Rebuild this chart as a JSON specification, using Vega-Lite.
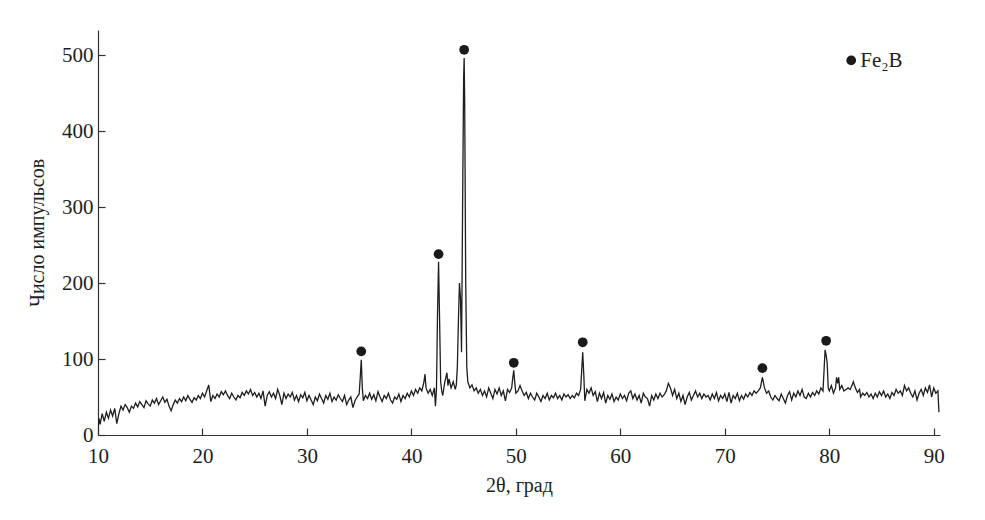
{
  "$schema": "https://vega.github.io/schema/vega-lite/v6.json",
  "width": 842,
  "height": 405,
  "autosize": "none",
  "padding": {"left": 98, "top": 30, "right": 45, "bottom": 85},
  "background": "white",
  "config": {
    "view": {"stroke": null},
    "font": "Liberation Serif",
    "axis": {"grid": false, "domainColor": "#333", "tickColor": "#333", "labelColor": "#1e1e1e", "titleColor": "#1e1e1e", "labelFont": "Liberation Serif", "titleFont": "Liberation Serif", "labelFontSize": 21, "titleFontSize": 20, "titleFontWeight": "normal", "domainWidth": 1.2, "tickWidth": 1.2}
  },
  "datasets": {
    "xrd": [
      {"t":10.0,"c":8},{"t":10.1,"c":22},{"t":10.2,"c":14},{"t":10.4,"c":28},{"t":10.6,"c":18},{"t":10.8,"c":30},{"t":11.0,"c":22},{"t":11.2,"c":33},{"t":11.4,"c":25},{"t":11.6,"c":35},{"t":11.8,"c":15},{"t":12.0,"c":28},{"t":12.2,"c":38},
      {"t":12.4,"c":33},{"t":12.6,"c":40},{"t":12.8,"c":36},{"t":13.0,"c":30},{"t":13.2,"c":38},{"t":13.4,"c":35},{"t":13.6,"c":42},{"t":13.8,"c":37},{"t":14.0,"c":44},{"t":14.2,"c":40},{"t":14.4,"c":36},{"t":14.6,"c":45},{"t":14.8,"c":41},{"t":15.0,"c":38},
      {"t":15.2,"c":46},{"t":15.4,"c":42},{"t":15.6,"c":48},{"t":15.8,"c":40},{"t":16.0,"c":45},{"t":16.2,"c":50},{"t":16.4,"c":43},{"t":16.6,"c":47},{"t":16.8,"c":38},{"t":17.0,"c":32},{"t":17.2,"c":40},{"t":17.4,"c":46},{"t":17.6,"c":42},{"t":17.8,"c":48},{"t":18.0,"c":44},
      {"t":18.2,"c":50},{"t":18.4,"c":45},{"t":18.6,"c":52},{"t":18.8,"c":47},{"t":19.0,"c":43},{"t":19.2,"c":49},{"t":19.4,"c":46},{"t":19.6,"c":52},{"t":19.8,"c":48},{"t":20.0,"c":55},{"t":20.2,"c":50},{"t":20.4,"c":58},{"t":20.6,"c":66},{"t":20.8,"c":44},{"t":21.0,"c":52},
      {"t":21.2,"c":48},{"t":21.4,"c":54},{"t":21.6,"c":50},{"t":21.8,"c":57},{"t":22.0,"c":53},{"t":22.2,"c":58},{"t":22.4,"c":52},{"t":22.6,"c":48},{"t":22.8,"c":55},{"t":23.0,"c":50},{"t":23.2,"c":46},{"t":23.4,"c":52},{"t":23.6,"c":49},{"t":23.8,"c":56},{"t":24.0,"c":52},
      {"t":24.2,"c":58},{"t":24.4,"c":54},{"t":24.6,"c":60},{"t":24.8,"c":52},{"t":25.0,"c":56},{"t":25.2,"c":50},{"t":25.4,"c":55},{"t":25.6,"c":48},{"t":25.8,"c":58},{"t":26.0,"c":38},{"t":26.2,"c":52},{"t":26.4,"c":57},{"t":26.6,"c":50},{"t":26.8,"c":55},{"t":27.0,"c":48},
      {"t":27.2,"c":60},{"t":27.4,"c":52},{"t":27.6,"c":40},{"t":27.8,"c":55},{"t":28.0,"c":48},{"t":28.2,"c":54},{"t":28.4,"c":50},{"t":28.6,"c":56},{"t":28.8,"c":46},{"t":29.0,"c":52},{"t":29.2,"c":44},{"t":29.4,"c":53},{"t":29.6,"c":49},{"t":29.8,"c":56},{"t":30.0,"c":45},
      {"t":30.2,"c":52},{"t":30.4,"c":46},{"t":30.6,"c":40},{"t":30.8,"c":50},{"t":31.0,"c":45},{"t":31.2,"c":54},{"t":31.4,"c":48},{"t":31.6,"c":42},{"t":31.8,"c":52},{"t":32.0,"c":47},{"t":32.2,"c":55},{"t":32.4,"c":44},{"t":32.6,"c":50},{"t":32.8,"c":46},{"t":33.0,"c":53},
      {"t":33.2,"c":48},{"t":33.4,"c":44},{"t":33.6,"c":52},{"t":33.8,"c":40},{"t":34.0,"c":46},{"t":34.2,"c":50},{"t":34.4,"c":36},{"t":34.6,"c":45},{"t":34.8,"c":50},{"t":35.0,"c":54},
      {"t":35.1,"c":75},{"t":35.2,"c":99},{"t":35.3,"c":62},{"t":35.4,"c":45},
      {"t":35.6,"c":52},{"t":35.8,"c":48},{"t":36.0,"c":55},{"t":36.2,"c":47},{"t":36.4,"c":53},{"t":36.6,"c":45},{"t":36.8,"c":57},{"t":37.0,"c":50},{"t":37.2,"c":44},{"t":37.4,"c":52},{"t":37.6,"c":48},{"t":37.8,"c":55},{"t":38.0,"c":46},
      {"t":38.2,"c":42},{"t":38.4,"c":50},{"t":38.6,"c":47},{"t":38.8,"c":54},{"t":39.0,"c":44},{"t":39.2,"c":52},{"t":39.4,"c":48},{"t":39.6,"c":55},{"t":39.8,"c":50},{"t":40.0,"c":58},{"t":40.2,"c":52},{"t":40.4,"c":60},{"t":40.6,"c":55},{"t":40.8,"c":62},{"t":41.0,"c":58},
      {"t":41.2,"c":70},{"t":41.3,"c":80},{"t":41.4,"c":62},{"t":41.6,"c":55},{"t":41.8,"c":60},{"t":42.0,"c":52},{"t":42.2,"c":62},{"t":42.3,"c":38},{"t":42.4,"c":60},{"t":42.5,"c":160},{"t":42.6,"c":228},{"t":42.7,"c":150},{"t":42.8,"c":70},{"t":42.9,"c":58},{"t":43.0,"c":52},{"t":43.2,"c":70},{"t":43.4,"c":82},{"t":43.5,"c":65},{"t":43.6,"c":74},{"t":43.8,"c":62},{"t":44.0,"c":70},{"t":44.2,"c":60},{"t":44.3,"c":66},{"t":44.4,"c":90},{"t":44.5,"c":150},{"t":44.6,"c":200},{"t":44.7,"c":180},{"t":44.8,"c":109},{"t":44.9,"c":300},{"t":45.0,"c":470},{"t":45.05,"c":496},{"t":45.1,"c":440},{"t":45.2,"c":200},{"t":45.3,"c":90},{"t":45.4,"c":70},
      {"t":45.6,"c":62},{"t":45.8,"c":66},{"t":46.0,"c":58},{"t":46.2,"c":62},{"t":46.4,"c":55},{"t":46.6,"c":60},{"t":46.8,"c":52},{"t":47.0,"c":58},{"t":47.2,"c":50},{"t":47.4,"c":62},{"t":47.6,"c":55},{"t":47.8,"c":48},{"t":48.0,"c":60},{"t":48.2,"c":54},{"t":48.4,"c":62},{"t":48.6,"c":52},{"t":48.8,"c":58},{"t":49.0,"c":45},{"t":49.2,"c":60},{"t":49.4,"c":56},{"t":49.6,"c":62},{"t":49.7,"c":75},{"t":49.8,"c":85},{"t":49.9,"c":68},{"t":50.0,"c":55},{"t":50.2,"c":58},{"t":50.4,"c":65},{"t":50.6,"c":58},{"t":50.8,"c":52},
      {"t":51.0,"c":56},{"t":51.2,"c":48},{"t":51.4,"c":55},{"t":51.6,"c":50},{"t":51.8,"c":46},{"t":52.0,"c":55},{"t":52.2,"c":50},{"t":52.4,"c":44},{"t":52.6,"c":52},{"t":52.8,"c":48},{"t":53.0,"c":55},{"t":53.2,"c":46},{"t":53.4,"c":52},{"t":53.6,"c":49},{"t":53.8,"c":55},{"t":54.0,"c":48},{"t":54.2,"c":52},{"t":54.4,"c":46},{"t":54.6,"c":54},{"t":54.8,"c":50},{"t":55.0,"c":53},{"t":55.2,"c":48},{"t":55.4,"c":52},{"t":55.6,"c":49},{"t":55.8,"c":55},{"t":56.0,"c":52},{"t":56.2,"c":60},{"t":56.3,"c":85},{"t":56.4,"c":109},{"t":56.5,"c":80},{"t":56.6,"c":45},{"t":56.8,"c":60},
      {"t":57.0,"c":55},{"t":57.2,"c":62},{"t":57.4,"c":52},{"t":57.6,"c":57},{"t":57.8,"c":44},{"t":58.0,"c":55},{"t":58.2,"c":48},{"t":58.4,"c":56},{"t":58.6,"c":42},{"t":58.8,"c":52},{"t":59.0,"c":47},{"t":59.2,"c":54},{"t":59.4,"c":44},{"t":59.6,"c":50},{"t":59.8,"c":46},{"t":60.0,"c":54},{"t":60.2,"c":48},{"t":60.4,"c":52},{"t":60.6,"c":45},{"t":60.8,"c":55},{"t":61.0,"c":58},{"t":61.2,"c":48},{"t":61.4,"c":54},{"t":61.6,"c":46},{"t":61.8,"c":52},{"t":62.0,"c":42},{"t":62.2,"c":55},{"t":62.4,"c":50},{"t":62.6,"c":48},{"t":62.8,"c":38},
      {"t":63.0,"c":52},{"t":63.2,"c":46},{"t":63.4,"c":54},{"t":63.6,"c":48},{"t":63.8,"c":55},{"t":64.0,"c":50},{"t":64.2,"c":53},{"t":64.4,"c":58},{"t":64.6,"c":68},{"t":64.8,"c":62},{"t":65.0,"c":52},{"t":65.2,"c":60},{"t":65.4,"c":48},{"t":65.6,"c":55},{"t":65.8,"c":44},{"t":66.0,"c":52},{"t":66.2,"c":40},{"t":66.4,"c":50},{"t":66.6,"c":56},{"t":66.8,"c":46},{"t":67.0,"c":52},{"t":67.2,"c":58},{"t":67.4,"c":50},{"t":67.6,"c":55},{"t":67.8,"c":48},{"t":68.0,"c":54},{"t":68.2,"c":50},{"t":68.4,"c":52},{"t":68.6,"c":46},{"t":68.8,"c":54},
      {"t":69.0,"c":48},{"t":69.2,"c":56},{"t":69.4,"c":45},{"t":69.6,"c":52},{"t":69.8,"c":48},{"t":70.0,"c":54},{"t":70.2,"c":44},{"t":70.4,"c":56},{"t":70.6,"c":42},{"t":70.8,"c":52},{"t":71.0,"c":48},{"t":71.2,"c":55},{"t":71.4,"c":45},{"t":71.6,"c":52},{"t":71.8,"c":47},{"t":72.0,"c":54},{"t":72.2,"c":50},{"t":72.4,"c":56},{"t":72.6,"c":52},{"t":72.8,"c":58},{"t":73.0,"c":55},{"t":73.2,"c":58},{"t":73.4,"c":62},{"t":73.6,"c":76},{"t":73.8,"c":62},{"t":74.0,"c":55},{"t":74.2,"c":58},{"t":74.4,"c":50},{"t":74.6,"c":46},{"t":74.8,"c":52},
      {"t":75.0,"c":48},{"t":75.2,"c":45},{"t":75.4,"c":54},{"t":75.6,"c":48},{"t":75.8,"c":42},{"t":76.0,"c":52},{"t":76.2,"c":57},{"t":76.4,"c":46},{"t":76.6,"c":55},{"t":76.8,"c":50},{"t":77.0,"c":58},{"t":77.2,"c":52},{"t":77.4,"c":60},{"t":77.6,"c":50},{"t":77.8,"c":48},{"t":78.0,"c":55},{"t":78.2,"c":50},{"t":78.4,"c":56},{"t":78.6,"c":52},{"t":78.8,"c":58},{"t":79.0,"c":54},{"t":79.2,"c":62},{"t":79.4,"c":58},{"t":79.5,"c":85},{"t":79.6,"c":112},{"t":79.7,"c":105},{"t":79.8,"c":95},{"t":79.9,"c":62},{"t":80.0,"c":58},{"t":80.2,"c":65},{"t":80.4,"c":55},{"t":80.6,"c":62},{"t":80.7,"c":76},{"t":80.8,"c":68},{"t":80.9,"c":76},
      {"t":81.0,"c":60},{"t":81.2,"c":65},{"t":81.4,"c":58},{"t":81.6,"c":60},{"t":81.8,"c":62},{"t":82.0,"c":60},{"t":82.2,"c":66},{"t":82.3,"c":70},{"t":82.5,"c":62},{"t":82.7,"c":56},{"t":82.9,"c":60},{"t":83.0,"c":50},{"t":83.2,"c":55},{"t":83.4,"c":52},{"t":83.6,"c":56},{"t":83.8,"c":50},{"t":84.0,"c":54},{"t":84.2,"c":48},{"t":84.4,"c":55},{"t":84.6,"c":50},{"t":84.8,"c":57},{"t":85.0,"c":52},{"t":85.2,"c":58},{"t":85.4,"c":50},{"t":85.6,"c":54},{"t":85.8,"c":48},{"t":86.0,"c":56},{"t":86.2,"c":52},{"t":86.4,"c":60},{"t":86.6,"c":55},{"t":86.8,"c":58},
      {"t":87.0,"c":52},{"t":87.2,"c":65},{"t":87.4,"c":58},{"t":87.6,"c":62},{"t":87.8,"c":55},{"t":88.0,"c":50},{"t":88.2,"c":58},{"t":88.4,"c":46},{"t":88.6,"c":55},{"t":88.8,"c":60},{"t":89.0,"c":52},{"t":89.2,"c":62},{"t":89.4,"c":56},{"t":89.6,"c":66},{"t":89.8,"c":50},{"t":90.0,"c":62},{"t":90.2,"c":55},{"t":90.4,"c":58},{"t":90.5,"c":30}
    ],
    "marks": [
      {"t":35.2,"c":110},{"t":42.6,"c":238},{"t":45.05,"c":507},{"t":49.8,"c":95},{"t":56.4,"c":122},{"t":73.6,"c":88},{"t":79.7,"c":124}
    ],
    "legend": [
      {"t":82.1,"c":493,"label":"Fe₂B"}
    ]
  },
  "layer": [
    {
      "data": {"name": "xrd"},
      "mark": {"type": "line", "color": "#1e1e1e", "strokeWidth": 1.3, "clip": true},
      "encoding": {
        "x": {"field": "t", "type": "quantitative", "scale": {"domain": [10, 90.6], "nice": false, "zero": false},
          "axis": {"title": "2θ, град", "values": [10,20,30,40,50,60,70,80,90], "tickSize": -7, "labelPadding": 17, "labelFlush": false, "labelOverlap": false, "titlePadding": 9, "format": "d"}},
        "y": {"field": "c", "type": "quantitative", "scale": {"domain": [0, 533], "nice": false},
          "axis": {"title": "Число импульсов", "values": [0,100,200,300,400,500], "tickSize": -7, "labelPadding": 12, "labelFlush": false, "titlePadding": 14, "format": "d"}}
      }
    },
    {
      "data": {"name": "marks"},
      "mark": {"type": "point", "filled": true, "color": "#1a1a1a", "size": 95, "opacity": 1},
      "encoding": {
        "x": {"field": "t", "type": "quantitative"},
        "y": {"field": "c", "type": "quantitative"}
      }
    },
    {
      "data": {"name": "legend"},
      "mark": {"type": "point", "filled": true, "color": "#1a1a1a", "size": 95, "opacity": 1},
      "encoding": {
        "x": {"field": "t", "type": "quantitative"},
        "y": {"field": "c", "type": "quantitative"}
      }
    },
    {
      "data": {"name": "legend"},
      "mark": {"type": "text", "align": "left", "baseline": "middle", "dx": 9, "dy": 1, "font": "Liberation Serif", "fontSize": 21, "color": "#1e1e1e"},
      "encoding": {
        "x": {"field": "t", "type": "quantitative"},
        "y": {"field": "c", "type": "quantitative"},
        "text": {"field": "label"}
      }
    }
  ]
}
